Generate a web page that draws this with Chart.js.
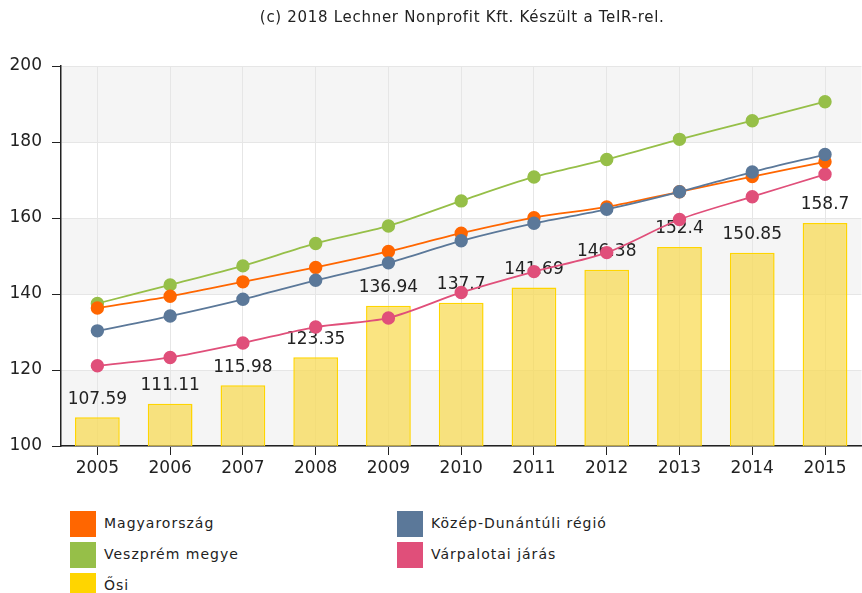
<!DOCTYPE html>
<html>
<head>
<meta charset="utf-8">
<script src="https://cdn.jsdelivr.net/npm/chart.js@4"></script>
<style>
  html, body { margin: 0; padding: 0; background: #fff; overflow: hidden; }
  #wrap { position: relative; width: 862px; height: 593px; overflow: hidden; }
  #cv { position: absolute; left: 0; top: 0; }
  .lg { position: absolute; font-family: "DejaVu Sans", sans-serif; font-size: 14px; letter-spacing: 1px; color: #222; }
  .lg .sq { position: absolute; left: 0; top: 0; width: 26px; height: 26px; }
  .lg .tx { position: absolute; left: 34px; top: 4px; white-space: nowrap; }
</style>
</head>
<body>
<div id="wrap">
  <canvas id="cv" width="869" height="490"></canvas>
  <div id="legend"></div>
</div>
<script>
const years = ["2005","2006","2007","2008","2009","2010","2011","2012","2013","2014","2015"];
const magyarorszag = [136.3, 139.4, 143.2, 147.0, 151.2, 156.0, 160.1, 162.9, 166.9, 170.9, 174.8];
const kozepDunantuli = [130.3, 134.2, 138.6, 143.6, 148.2, 154.0, 158.6, 162.3, 166.9, 172.1, 176.7];
const veszpremMegye = [137.5, 142.4, 147.4, 153.3, 157.9, 164.5, 170.8, 175.4, 180.7, 185.6, 190.6];
const varpalotaiJaras = [121.1, 123.3, 127.1, 131.3, 133.7, 140.4, 145.9, 150.9, 159.6, 165.6, 171.5];
const osi = [107.59, 111.11, 115.98, 123.35, 136.94, 137.7, 141.69, 146.38, 152.4, 150.85, 158.7];
const yTicks = [100, 120, 140, 160, 180, 200];
const seriesNames = ["Magyarország", "Közép-Dunántúli régió", "Veszprém megye", "Várpalotai járás", "Ősi"];
const seriesColors = ["#FF6600", "#5B7899", "#96BF48", "#E04F7A", "#FFD500"];
const titleText = "(c) 2018 Lechner Nonprofit Kft. Készült a TeIR-rel.";

const FONT = '"DejaVu Sans", sans-serif';

const bandsPlugin = {
  id: 'bands',
  beforeDraw(chart) {
    const {ctx, chartArea, scales} = chart;
    const y = scales.y;
    ctx.save();
    ctx.fillStyle = '#F5F5F5';
    for (let i = 0; i < yTicks.length - 1; i++) {
      if (i % 2 === 0) {
        const top = y.getPixelForValue(yTicks[i + 1]);
        const bot = y.getPixelForValue(yTicks[i]);
        ctx.fillRect(chartArea.left, top, chartArea.right - chartArea.left, bot - top);
      }
    }
    ctx.restore();
  }
};

const titlePlugin = {
  id: 'ctitle',
  afterDraw(chart) {
    const {ctx, chartArea} = chart;
    ctx.save();
    ctx.font = '15px ' + FONT;
    try { ctx.letterSpacing = '0.7px'; } catch (e) {}
    ctx.fillStyle = '#222';
    ctx.textAlign = 'center';
    ctx.textBaseline = 'middle';
    ctx.fillText(titleText, (chartArea.left + chartArea.right) / 2 + 1, 18);
    ctx.restore();
  }
};

const barLabelPlugin = {
  id: 'barLabels',
  afterDatasetDraw(chart, args) {
    const ds = chart.data.datasets[args.index];
    if (ds.type !== 'bar') return;
    const {ctx} = chart;
    const meta = args.meta;
    ctx.save();
    ctx.font = '17px ' + FONT;
    ctx.fillStyle = '#222';
    ctx.textAlign = 'center';
    ctx.textBaseline = 'middle';
    meta.data.forEach((el, i) => {
      ctx.fillText(String(ds.data[i]), el.x, el.y - 18);
    });
    ctx.restore();
  }
};

function lineDs(label, data, color, order) {
  return {
    type: 'line', label, data, order,
    borderColor: color, backgroundColor: color,
    pointBackgroundColor: color, pointBorderColor: color,
    borderWidth: 1.8, pointRadius: 5.8, pointHoverRadius: 5.8,
    tension: 0.3, fill: false
  };
}

new Chart(document.getElementById('cv'), {
  data: {
    labels: years,
    datasets: [
      lineDs(seriesNames[0], magyarorszag, seriesColors[0], 2),
      lineDs(seriesNames[1], kozepDunantuli, seriesColors[1], 1),
      lineDs(seriesNames[2], veszpremMegye, seriesColors[2], 3),
      lineDs(seriesNames[3], varpalotaiJaras, seriesColors[3], 4),
      {
        type: 'bar', label: seriesNames[4], data: osi, order: 10,
        backgroundColor: 'rgba(248,218,80,0.72)',
        borderColor: '#FFD500', borderWidth: 1.5,
        categoryPercentage: 1.0, barPercentage: 0.615
      }
    ]
  },
  options: {
    responsive: false,
    animation: false,
    events: [],
    layout: { padding: { top: 66, left: 0, right: 0, bottom: 0 } },
    plugins: { legend: { display: false }, title: { display: false }, tooltip: { enabled: false } },
    scales: {
      x: {
        type: 'category',
        offset: true,
        grid: { offset: false, color: '#E6E6E6', tickColor: '#222', tickLength: 9, lineWidth: 1 },
        border: { display: true, color: '#222', width: 1.5 },
        ticks: { font: { family: FONT, size: 17 }, color: '#222', padding: 3, maxRotation: 0 },
        afterFit(s) { s.height = 44; }
      },
      y: {
        min: 100, max: 200,
        afterBuildTicks(s) { s.ticks = yTicks.map(v => ({ value: v })); },
        grid: { color: '#E6E6E6', tickColor: '#222', tickLength: 9, lineWidth: 1 },
        border: { display: true, color: '#222', width: 1.5 },
        ticks: { font: { family: FONT, size: 17 }, color: '#222', padding: 10 },
        afterFit(s) { s.width = 61; }
      }
    }
  },
  plugins: [bandsPlugin, titlePlugin, barLabelPlugin]
});

// HTML legend in two columns
const legendPos = [
  { idx: 0, left: 70, top: 511 },
  { idx: 1, left: 397, top: 511 },
  { idx: 2, left: 70, top: 542 },
  { idx: 3, left: 397, top: 542 },
  { idx: 4, left: 70, top: 573 }
];
const lg = document.getElementById('legend');
legendPos.forEach(p => {
  const d = document.createElement('div');
  d.className = 'lg';
  d.style.left = p.left + 'px';
  d.style.top = p.top + 'px';
  const sq = document.createElement('div');
  sq.className = 'sq';
  sq.style.background = seriesColors[p.idx];
  const tx = document.createElement('div');
  tx.className = 'tx';
  tx.textContent = seriesNames[p.idx];
  d.appendChild(sq); d.appendChild(tx);
  lg.appendChild(d);
});
</script>
</body>
</html>
